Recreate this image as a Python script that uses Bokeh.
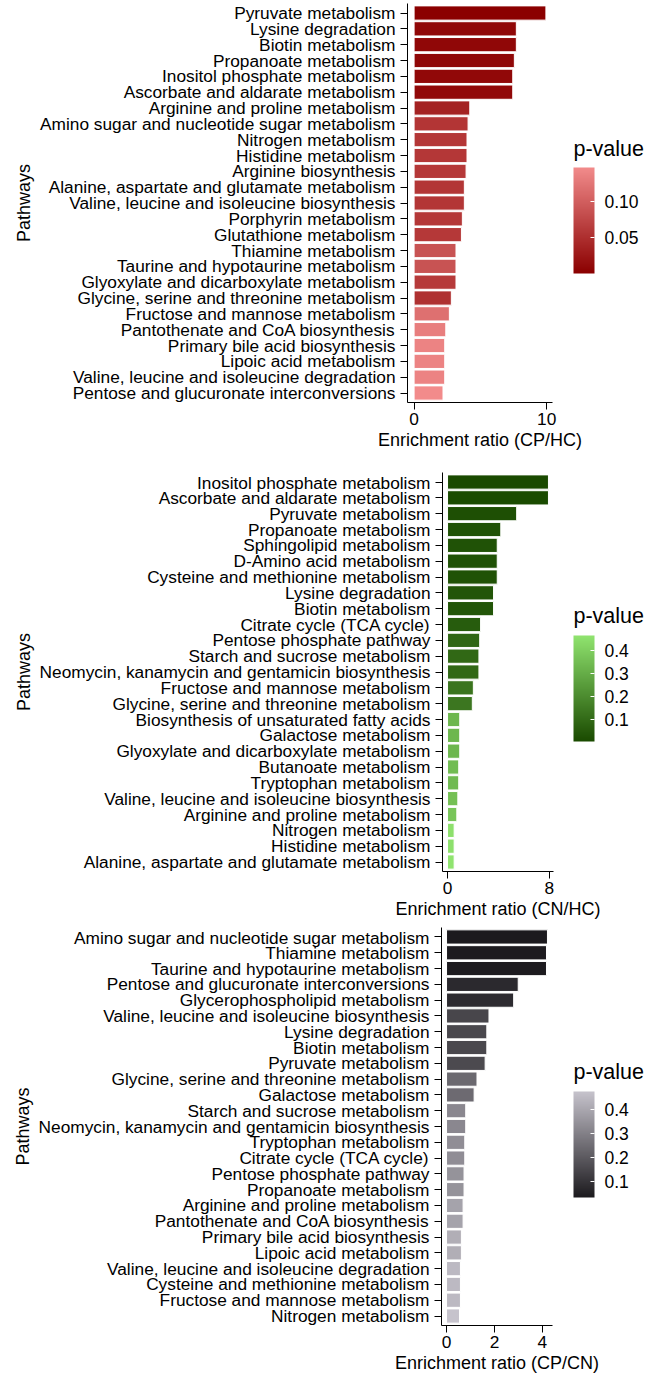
from bokeh.plotting import figure
from bokeh.models import (FactorRange, Range1d, FixedTicker, LinearColorMapper, ColorBar,
                          PrintfTickFormatter, ColumnDataSource)
from bokeh.transform import transform
from bokeh.embed import file_html
from bokeh.resources import INLINE

# ---------------- data ----------------
cp_hc_pathways = [
    "Pyruvate metabolism", "Lysine degradation", "Biotin metabolism", "Propanoate metabolism",
    "Inositol phosphate metabolism", "Ascorbate and aldarate metabolism",
    "Arginine and proline metabolism", "Amino sugar and nucleotide sugar metabolism",
    "Nitrogen metabolism", "Histidine metabolism", "Arginine biosynthesis",
    "Alanine, aspartate and glutamate metabolism", "Valine, leucine and isoleucine biosynthesis",
    "Porphyrin metabolism", "Glutathione metabolism", "Thiamine metabolism",
    "Taurine and hypotaurine metabolism", "Glyoxylate and dicarboxylate metabolism",
    "Glycine, serine and threonine metabolism", "Fructose and mannose metabolism",
    "Pantothenate and CoA biosynthesis", "Primary bile acid biosynthesis",
    "Lipoic acid metabolism", "Valine, leucine and isoleucine degradation",
    "Pentose and glucuronate interconversions",
]
cp_hc_ratio = [9.94, 7.71, 7.71, 7.56, 7.44, 7.44, 4.20, 4.07, 3.99, 3.99, 3.92, 3.79, 3.79,
               3.64, 3.57, 3.16, 3.16, 3.16, 2.81, 2.66, 2.39, 2.31, 2.31, 2.31, 2.18]
cp_hc_p = [0.001, 0.008, 0.008, 0.008, 0.009, 0.009, 0.037, 0.057, 0.059, 0.059, 0.060, 0.058,
           0.058, 0.059, 0.060, 0.088, 0.088, 0.062, 0.052, 0.118, 0.133, 0.138, 0.138, 0.138,
           0.147]

cn_hc_pathways = [
    "Inositol phosphate metabolism", "Ascorbate and aldarate metabolism", "Pyruvate metabolism",
    "Propanoate metabolism", "Sphingolipid metabolism", "D-Amino acid metabolism",
    "Cysteine and methionine metabolism", "Lysine degradation", "Biotin metabolism",
    "Citrate cycle (TCA cycle)", "Pentose phosphate pathway", "Starch and sucrose metabolism",
    "Neomycin, kanamycin and gentamicin biosynthesis", "Fructose and mannose metabolism",
    "Glycine, serine and threonine metabolism", "Biosynthesis of unsaturated fatty acids",
    "Galactose metabolism", "Glyoxylate and dicarboxylate metabolism", "Butanoate metabolism",
    "Tryptophan metabolism", "Valine, leucine and isoleucine biosynthesis",
    "Arginine and proline metabolism", "Nitrogen metabolism", "Histidine metabolism",
    "Alanine, aspartate and glutamate metabolism",
]
cn_hc_ratio = [7.94, 7.94, 5.44, 4.19, 3.91, 3.91, 3.91, 3.62, 3.62, 2.60, 2.53, 2.47, 2.47,
               2.03, 1.95, 0.96, 0.96, 0.96, 0.88, 0.88, 0.81, 0.73, 0.52, 0.52, 0.52]
cn_hc_p = [0.002, 0.004, 0.020, 0.026, 0.028, 0.028, 0.028, 0.035, 0.035, 0.055, 0.090, 0.092,
           0.092, 0.130, 0.135, 0.330, 0.330, 0.330, 0.345, 0.340, 0.360, 0.375, 0.455, 0.455,
           0.468]

cp_cn_pathways = [
    "Amino sugar and nucleotide sugar metabolism", "Thiamine metabolism",
    "Taurine and hypotaurine metabolism", "Pentose and glucuronate interconversions",
    "Glycerophospholipid metabolism", "Valine, leucine and isoleucine biosynthesis",
    "Lysine degradation", "Biotin metabolism", "Pyruvate metabolism",
    "Glycine, serine and threonine metabolism", "Galactose metabolism",
    "Starch and sucrose metabolism", "Neomycin, kanamycin and gentamicin biosynthesis",
    "Tryptophan metabolism", "Citrate cycle (TCA cycle)", "Pentose phosphate pathway",
    "Propanoate metabolism", "Arginine and proline metabolism",
    "Pantothenate and CoA biosynthesis", "Primary bile acid biosynthesis",
    "Lipoic acid metabolism", "Valine, leucine and isoleucine degradation",
    "Cysteine and methionine metabolism", "Fructose and mannose metabolism",
    "Nitrogen metabolism",
]
cp_cn_ratio = [4.21, 4.17, 4.17, 2.99, 2.80, 1.77, 1.68, 1.68, 1.61, 1.27, 1.15, 0.80, 0.80,
               0.76, 0.76, 0.73, 0.73, 0.69, 0.69, 0.62, 0.62, 0.58, 0.58, 0.58, 0.54]
cp_cn_p = [0.035, 0.040, 0.040, 0.075, 0.080, 0.150, 0.155, 0.155, 0.160, 0.240, 0.245, 0.320,
           0.320, 0.335, 0.335, 0.350, 0.350, 0.390, 0.390, 0.420, 0.420, 0.450, 0.450, 0.450,
           0.476]

FONT = "Liberation Sans"


def ramp(c0, c1, n=256):
    a = [int(c0[i:i + 2], 16) for i in (1, 3, 5)]
    b = [int(c1[i:i + 2], 16) for i in (1, 3, 5)]
    out = []
    for k in range(n):
        t = k / (n - 1)
        out.append("#%02x%02x%02x" % tuple(round(a[j] + (b[j] - a[j]) * t) for j in range(3)))
    return out


def make_panel(paths, ratio, pval, xticks, xlabel, low_c, high_c, cticks, cfmt,
               width, height, mb_left, mb_right, mb_top, mb_bottom, cb_x, cb_y, title_y):
    xmax = max(ratio)
    p = figure(y_range=FactorRange(factors=list(reversed(paths)), range_padding=0.008),
               x_range=Range1d(-0.05 * xmax, 1.05 * xmax),
               width=width, height=height,
               output_backend="svg", toolbar_location=None,
               min_border_left=mb_left, min_border_right=mb_right,
               min_border_top=mb_top, min_border_bottom=mb_bottom)
    mapper = LinearColorMapper(palette=ramp(low_c, high_c), low=min(pval), high=max(pval))
    src = ColumnDataSource(dict(path=paths, ratio=ratio, p=pval))
    p.hbar(y="path", right="ratio", left=0, height=0.9, source=src,
           fill_color=transform("p", mapper), line_color="white", line_width=1)

    p.xaxis.ticker = FixedTicker(ticks=xticks)
    p.xaxis.axis_label = xlabel
    p.yaxis.axis_label = "Pathways"
    for ax in (p.xaxis[0], p.yaxis[0]):
        ax.axis_line_color = "black"
        ax.axis_line_width = 1
        ax.major_tick_line_color = "black"
        ax.major_tick_out = 7
        ax.major_tick_in = 0
        ax.minor_tick_line_color = None
        ax.major_label_text_font = FONT
        ax.major_label_text_font_size = "17.3px"
        ax.major_label_text_color = "black"
        ax.axis_label_text_font = FONT
        ax.axis_label_text_font_size = "18px"
        ax.axis_label_text_font_style = "normal"
        ax.axis_label_text_color = "black"
    p.xaxis.major_label_standoff = 3
    p.xaxis.axis_label_standoff = 2
    p.yaxis.major_label_standoff = 5
    p.yaxis.axis_label_standoff = 3
    p.xgrid.grid_line_color = None
    p.ygrid.grid_line_color = None
    p.outline_line_color = None

    cb = ColorBar(color_mapper=mapper, ticker=FixedTicker(ticks=cticks),
                  formatter=PrintfTickFormatter(format=cfmt), orientation="vertical",
                  width=21, height=106, location=(cb_x, cb_y), padding=0, margin=0,
                  major_label_text_font=FONT, major_label_text_font_size="17.5px",
                  major_label_text_color="black", label_standoff=10,
                  major_tick_line_color="white", major_tick_in=4, major_tick_out=0,
                  bar_line_color=None, border_line_color=None, background_fill_color=None)
    p.add_layout(cb)
    # legend title: an invisible horizontal bar that carries only its (horizontal) title
    tb = ColorBar(color_mapper=mapper, ticker=FixedTicker(ticks=[]), orientation="horizontal",
                  width=1, height=1, scale_alpha=0, location=(cb_x, title_y),
                  padding=0, margin=0, title="p-value", title_standoff=0,
                  title_text_font=FONT, title_text_font_size="21.5px",
                  title_text_font_style="normal", title_text_color="black",
                  major_label_text_font_size="0px", label_standoff=0,
                  major_tick_line_color=None, bar_line_color=None,
                  border_line_color=None, background_fill_color=None)
    p.add_layout(tb)
    return p


p1 = make_panel(cp_hc_pathways, cp_hc_ratio, cp_hc_p, [0, 10], "Enrichment ratio (CP/HC)",
                "#8B0000", "#F28B8B", [0.05, 0.10], "%.2f",
                661, 472, 407, 109, 3, 70, 166, 129, 241)
p2 = make_panel(cn_hc_pathways, cn_hc_ratio, cn_hc_p, [0, 8], "Enrichment ratio (CN/HC)",
                "#1A4A00", "#90E46F", [0.1, 0.2, 0.3, 0.4], "%.1f",
                661, 455, 442, 108, 0, 56, 131, 130, 243)
p3 = make_panel(cp_cn_pathways, cp_cn_ratio, cp_cn_p, [0, 2, 4], "Enrichment ratio (CP/CN)",
                "#1C1A1E", "#C6C3CC", [0.1, 0.2, 0.3, 0.4], "%.1f",
                661, 451, 441, 109, 0, 53, 132, 128, 241)

open("out.html", "w").write(file_html([p1, p2, p3], INLINE))
